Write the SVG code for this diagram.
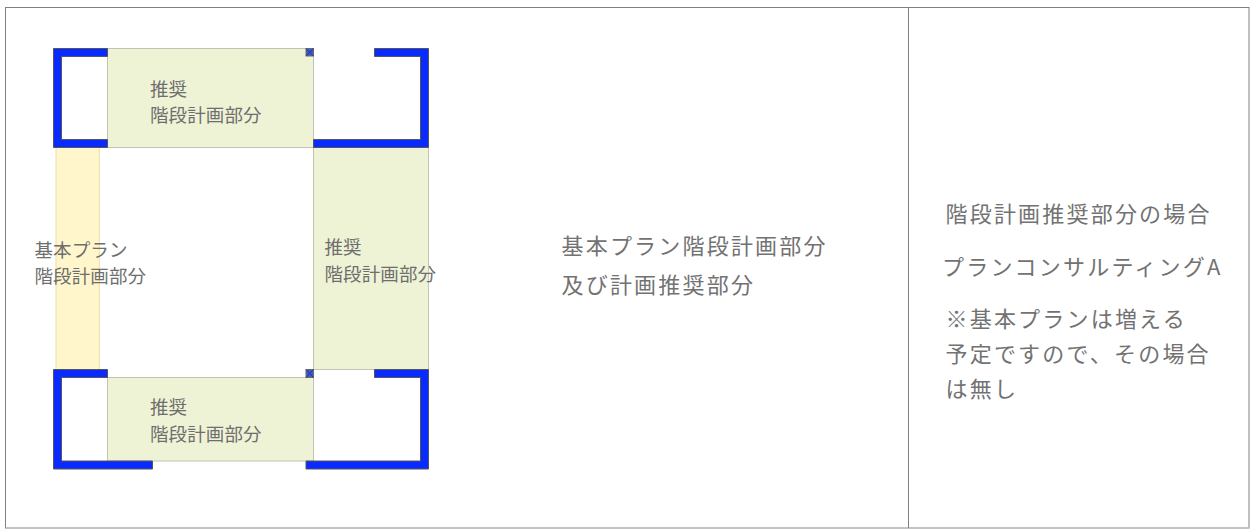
<svg xmlns="http://www.w3.org/2000/svg" width="1250" height="529" viewBox="0 0 1250 529">
<style>
  .frame { fill: none; stroke: #808080; stroke-width: 1; }
  .wall { fill: #0a2bff; stroke: #555555; stroke-width: 1; }
  .rec { fill: #eef3d6; stroke: #c4c4b4; stroke-width: 1; }
  .basic { fill: #fff6cc; stroke: #ebe0a8; stroke-width: 1; }
  .post { fill: #3a5bd0; stroke: #6a6a6a; stroke-width: 1; }
  .postx { stroke: #203080; stroke-width: 0.8; }
  .lbl { font-family: "Noto Sans CJK JP", "Noto Sans", sans-serif; font-size: 18.5px; fill: #6e6e6e; letter-spacing: 0.1px; }
  .txt { font-family: "Noto Sans CJK JP", "Noto Sans", sans-serif; font-size: 22px; fill: #727272; letter-spacing: 2.2px; }
</style>
<rect width="1250" height="529" fill="#ffffff"/>
<g id="frame">
  <rect class="frame" x="5.5" y="7.5" width="1243.5" height="520.5"/>
  <line x1="5.5" y1="528" x2="1249" y2="528" stroke="#c8c8c8" stroke-width="1"/>
  <line class="frame" x1="908.5" y1="7.5" x2="908.5" y2="528"/>
</g>
<g id="plan">
  <g id="basic-strip">
    <rect class="basic" x="56" y="147.5" width="43.3" height="222"/>
  </g>
  <g id="rec-top">
    <rect class="rec" x="107.5" y="48.5" width="206" height="99"/>
  </g>
  <g id="rec-right">
    <rect class="rec" x="313.5" y="147.5" width="115" height="222"/>
  </g>
  <g id="rec-bottom">
    <rect class="rec" x="107.5" y="377.5" width="206" height="83.5"/>
  </g>
  <g id="wall-top-left">
    <path class="wall" d="M53.5,48.5 H107.5 V56.5 H61.5 V139.5 H107.5 V147.5 H53.5 Z"/>
  </g>
  <g id="wall-top-right">
    <path class="wall" d="M374.5,48.5 H428.5 V147.5 H313.5 V139.5 H420.5 V56.5 H374.5 Z"/>
  </g>
  <g id="wall-bottom-left">
    <path class="wall" d="M53.5,369.5 H107.5 V377.5 H61.5 V461 H152.5 V469 H53.5 Z"/>
  </g>
  <g id="wall-bottom-right">
    <path class="wall" d="M374.5,369.5 H428.5 V469 H306 V461 H420.5 V377.5 H374.5 Z"/>
  </g>
  <g id="post-top">
    <rect class="post" x="306" y="48.5" width="7.5" height="7.5"/>
    <path class="postx" d="M306,48.5 L313.5,56 M313.5,48.5 L306,56"/>
  </g>
  <g id="post-bottom">
    <rect class="post" x="306" y="369.5" width="7.5" height="8"/>
    <path class="postx" d="M306,369.5 L313.5,377.5 M313.5,369.5 L306,377.5"/>
  </g>
  <g id="label-top">
    <text class="lbl" x="150" y="95.5">推奨</text>
    <text class="lbl" x="150" y="121.5">階段計画部分</text>
  </g>
  <g id="label-left">
    <text class="lbl" x="34.5" y="257">基本プラン</text>
    <text class="lbl" x="34.5" y="283">階段計画部分</text>
  </g>
  <g id="label-right">
    <text class="lbl" x="324.5" y="254">推奨</text>
    <text class="lbl" x="324.5" y="280.5">階段計画部分</text>
  </g>
  <g id="label-bottom">
    <text class="lbl" x="150" y="414">推奨</text>
    <text class="lbl" x="150" y="440.5">階段計画部分</text>
  </g>
</g>
<g id="middle-text">
  <text class="txt" x="561.5" y="253.5">基本プラン階段計画部分</text>
  <text class="txt" x="561.5" y="292.5">及び計画推奨部分</text>
</g>
<g id="right-text">
  <text class="txt" x="945.5" y="222">階段計画推奨部分の場合</text>
  <text class="txt" x="942" y="275">プランコンサルティングA</text>
  <text class="txt" x="945.5" y="327">※基本プランは増える</text>
  <text class="txt" x="945.5" y="362">予定ですので、その場合</text>
  <text class="txt" x="945.5" y="396.5">は無し</text>
</g>
</svg>
